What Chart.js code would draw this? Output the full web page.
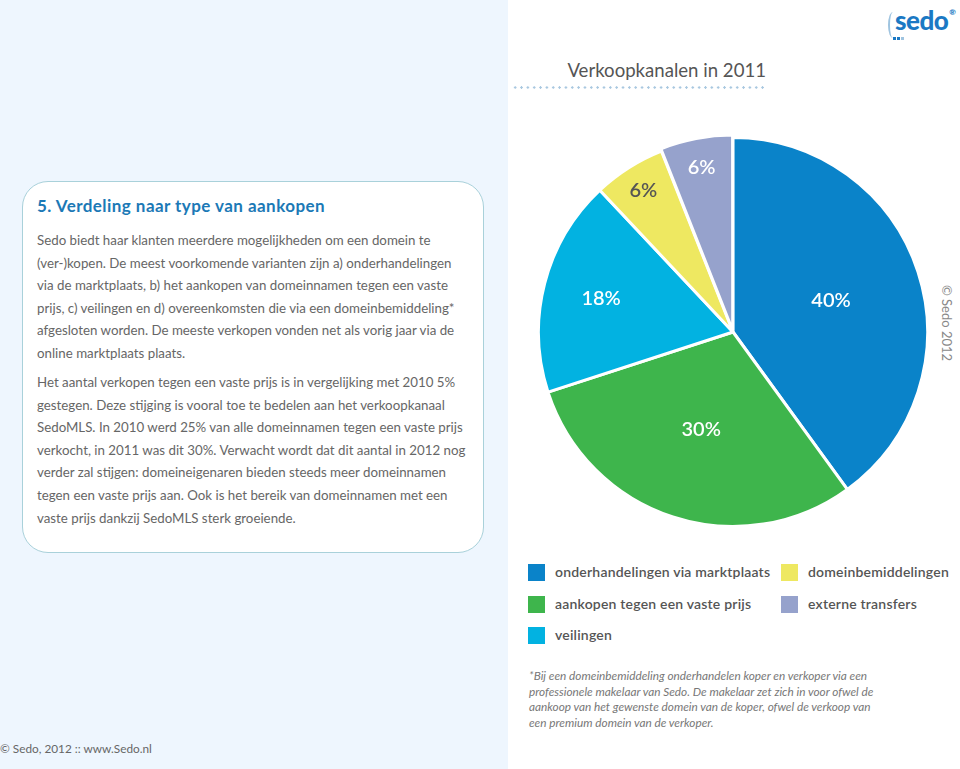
<!DOCTYPE html>
<html>
<head>
<meta charset="utf-8">
<script src="https://cdn.jsdelivr.net/npm/chart.js@4/dist/chart.umd.min.js"></script>
<style>
  body { margin: 0; width: 960px; height: 769px; position: relative; overflow: hidden; background: #fff; font-family: Lato, "Open Sans", sans-serif; }
  #leftbg { position: absolute; left: 0; top: 0; width: 508px; height: 769px; background: #eef6fe; }
  #box { position: absolute; left: 22px; top: 181px; width: 460px; height: 370px; background: #fff; border: 1px solid #a9d1da; border-radius: 26px; }
  #box h2 { position: absolute; left: 14px; top: 13px; margin: 0; font-size: 17px; font-weight: 700; color: #1b79b6; letter-spacing: 0.45px; }
  #box p { position: absolute; left: 14px; margin: 0; font-size: 13.3px; line-height: 22.6px; color: #666; white-space: nowrap; }
  #p1 { top: 47px; }
  #p2 { top: 189px; }
  #foot { position: absolute; left: 0; top: 741px; font-size: 11.8px; color: #666; }
  #logo { position: absolute; left: 895px; top: 4px; font-size: 26px; font-weight: 900; color: #1b79c4; letter-spacing: -0.5px; }
  #logo sup { font-size: 8px; vertical-align: 15px; margin-left: 1px; }
  #logo .paren { position: absolute; left: -7px; top: 8px; width: 8px; height: 26px; border-left: 2px solid #9fc4e0; border-radius: 50%; }
  #logo .sq { position: absolute; top: 33px; width: 3px; height: 3px; }
  #title { position: absolute; right: 194px; top: 59px; font-size: 18.6px; color: #555; }
  #dots { position: absolute; left: 512px; top: 86px; width: 254px; height: 3px;
          background-image: radial-gradient(circle, #a9c8e0 1px, transparent 1.4px); background-size: 6.35px 3px; }
  #chartwrap { position: absolute; left: 534px; top: 133px; width: 398px; height: 398px; }
  #copy { position: absolute; left: 947px; top: 323px; transform: translate(-50%, -50%) rotate(90deg); font-size: 13px; color: #888; white-space: nowrap; }
  .leg { position: absolute; font-size: 14px; color: #555; font-weight: 600; letter-spacing: 0.2px; }
  .leg span { position: absolute; left: 0; top: 0; width: 17px; height: 17px; }
  .leg div { position: absolute; left: 27px; top: -1px; white-space: nowrap; }
  #note { position: absolute; left: 529px; top: 668px; font-size: 11.8px; line-height: 15.5px; font-style: italic; color: #777; white-space: nowrap; }
</style>
</head>
<body>
<div id="leftbg"></div>
<div id="box">
  <h2>5. Verdeling naar type van aankopen</h2>
  <p id="p1">Sedo biedt haar klanten meerdere mogelijkheden om een domein te<br>(ver-)kopen. De meest voorkomende varianten zijn a) onderhandelingen<br>via de marktplaats, b) het aankopen van domeinnamen tegen een vaste<br>prijs, c) veilingen en d) overeenkomsten die via een domeinbemiddeling*<br>afgesloten worden. De meeste verkopen vonden net als vorig jaar via de<br>online marktplaats plaats.</p>
  <p id="p2">Het aantal verkopen tegen een vaste prijs is in vergelijking met 2010 5%<br>gestegen. Deze stijging is vooral toe te bedelen aan het verkoopkanaal<br>SedoMLS. In 2010 werd 25% van alle domeinnamen tegen een vaste prijs<br>verkocht, in 2011 was dit 30%. Verwacht wordt dat dit aantal in 2012 nog<br>verder zal stijgen: domeineigenaren bieden steeds meer domeinnamen<br>tegen een vaste prijs aan. Ook is het bereik van domeinnamen met een<br>vaste prijs dankzij SedoMLS sterk groeiende.</p>
</div>
<div id="foot">© Sedo, 2012 :: www.Sedo.nl</div>
<div id="logo"><span class="paren"></span>sedo<sup>®</sup>
  <span class="sq" style="left:-2px;background:#1b79c4"></span>
  <span class="sq" style="left:2px;background:#1b79c4"></span>
  <span class="sq" style="left:6px;background:#9fc4e0"></span>
</div>
<div id="title">Verkoopkanalen in 2011</div>
<div id="dots"></div>
<div id="chartwrap"><canvas id="chart"></canvas></div>
<div id="copy">© Sedo 2012</div>
<div id="legend"></div>
<div id="note">*Bij een domeinbemiddeling onderhandelen koper en verkoper via een<br>professionele makelaar van Sedo. De makelaar zet zich in voor ofwel de<br>aankoop van het gewenste domein van de koper, ofwel de verkoop van<br>een premium domein van de verkoper.</div>

<script>
var categories = ['onderhandelingen via marktplaats', 'aankopen tegen een vaste prijs', 'veilingen', 'domeinbemiddelingen', 'externe transfers'];
var shares = [40, 30, 18, 6, 6];
var sliceLabels = ['40%', '30%', '18%', '6%', '6%'];
var colors = ['#0a83c9', '#3eb54c', '#02b2e1', '#eee861', '#96a2cc'];
var labelColors = ['#fff', '#fff', '#fff', '#555', '#fff'];

// legend: first column 3 items, second column 2
var legendPos = [[528, 564], [528, 596], [528, 627], [781, 564], [781, 596]];
var legend = document.getElementById('legend');
for (var i = 0; i < categories.length; i++) {
    var item = document.createElement('div');
    item.className = 'leg';
    item.style.left = legendPos[i][0] + 'px';
    item.style.top = legendPos[i][1] + 'px';
    item.innerHTML = '<span style="background:' + colors[i] + '"></span><div>' + categories[i] + '</div>';
    legend.appendChild(item);
}

var sliceText = {
    id: 'sliceText',
    afterDatasetsDraw: function(chart) {
        var ctx = chart.ctx;
        var arcs = chart.getDatasetMeta(0).data;
        ctx.save();
        ctx.font = '600 20px Lato, "Open Sans", sans-serif';
        ctx.textAlign = 'center';
        ctx.textBaseline = 'middle';
        arcs.forEach(function(arc, i) {
            var mid = (arc.startAngle + arc.endAngle) / 2;
            var v = shares[i];
            var f = v >= 25 ? 0.53 : (v >= 10 ? 0.7 : 0.86);
            var r = arc.outerRadius * f;
            ctx.fillStyle = labelColors[i];
            ctx.fillText(sliceLabels[i], arc.x + Math.cos(mid) * r, arc.y + Math.sin(mid) * r);
        });
        ctx.restore();
    }
};

var chart = new Chart(document.getElementById('chart'), {
    type: 'pie',
    data: {
        labels: categories,
        datasets: [{
            data: shares,
            backgroundColor: colors,
            borderColor: '#fff',
            borderWidth: 3,
            offset: [0, 0, 0, 0, 6]
        }]
    },
    options: {
        responsive: true,
        maintainAspectRatio: false,
        animation: false,
        layout: { padding: 0 },
        plugins: {
            legend: { display: false },
            tooltip: { enabled: false }
        }
    },
    plugins: [sliceText]
});
</script>
</body>
</html>
